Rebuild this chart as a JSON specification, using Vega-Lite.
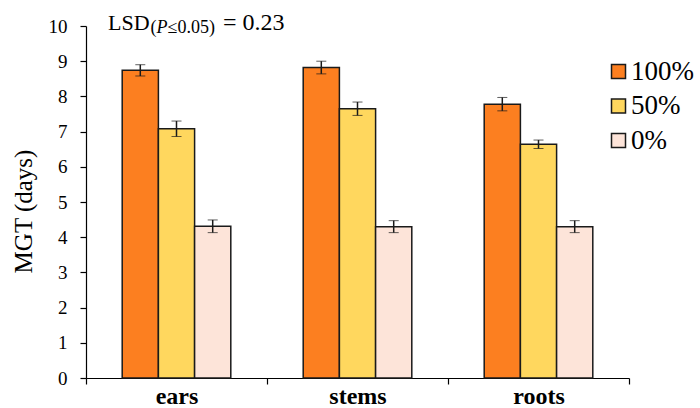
{
  "$schema": "https://vega.github.io/schema/vega-lite/v6.json",
  "width": 543,
  "height": 352,
  "autosize": "none",
  "padding": {"left": 86, "top": 26, "right": 71, "bottom": 30},
  "background": "white",
  "config": {
    "view": {"stroke": null},
    "font": "Liberation Serif",
    "text": {"font": "Liberation Serif"},
    "axis": {"labelFont": "Liberation Serif", "titleFont": "Liberation Serif", "labelColor": "black", "titleColor": "black"},
    "legend": {"labelFont": "Liberation Serif", "titleFont": "Liberation Serif"}
  },
  "data": {
    "values": [
      {"part": "ears", "level": "100%", "mgt": 8.74, "err": 0.16},
      {"part": "ears", "level": "50%", "mgt": 7.08, "err": 0.22},
      {"part": "ears", "level": "0%", "mgt": 4.31, "err": 0.18},
      {"part": "stems", "level": "100%", "mgt": 8.82, "err": 0.18},
      {"part": "stems", "level": "50%", "mgt": 7.65, "err": 0.19},
      {"part": "stems", "level": "0%", "mgt": 4.30, "err": 0.17},
      {"part": "roots", "level": "100%", "mgt": 7.78, "err": 0.19},
      {"part": "roots", "level": "50%", "mgt": 6.64, "err": 0.12},
      {"part": "roots", "level": "0%", "mgt": 4.30, "err": 0.17}
    ]
  },
  "encoding": {
    "x": {
      "field": "part",
      "type": "nominal",
      "sort": ["ears", "stems", "roots"],
      "scale": {"paddingInner": 0, "paddingOuter": 0},
      "axis": {
        "title": null,
        "labelAngle": 0,
        "labelFont": "Liberation Serif",
        "labelFontSize": 24,
        "labelFontWeight": "bold",
        "labelColor": "black",
        "labelBaseline": "alphabetic",
        "labelPadding": 19,
        "tickBand": "extent",
        "tickColor": "black",
        "tickSize": 6,
        "domainColor": "black",
        "domainWidth": 1.2,
        "tickWidth": 1.2
      }
    },
    "xOffset": {
      "field": "level",
      "type": "nominal",
      "sort": ["100%", "50%", "0%"],
      "scale": {"paddingInner": 0, "paddingOuter": 1.086}
    }
  },
  "layer": [
    {
      "encoding": {
        "y": {
          "field": "mgt",
          "type": "quantitative",
          "title": "MGT (days)",
          "scale": {"domain": [0, 10]},
          "axis": {
            "values": [0, 1, 2, 3, 4, 5, 6, 7, 8, 9, 10],
            "labelOverlap": false,
            "grid": false,
            "labelFont": "Liberation Serif",
            "labelFontSize": 19,
            "labelColor": "black",
            "labelPadding": 13,
            "tickColor": "black",
            "tickSize": 6,
            "tickWidth": 1.2,
            "domainColor": "black",
            "domainWidth": 1.2,
            "titleFont": "Liberation Serif",
            "titleFontSize": 25,
            "titleFontWeight": "normal",
            "titleColor": "black",
            "titlePadding": 12,
            "titleY": 185
          }
        }
      },
      "layer": [
        {
          "mark": {"type": "bar", "stroke": "#1a1a1a", "strokeWidth": 1.5},
          "encoding": {
            "fill": {
              "field": "level",
              "type": "nominal",
              "sort": ["100%", "50%", "0%"],
              "scale": {"domain": ["100%", "50%", "0%"], "range": ["#FC7F20", "#FFD75E", "#FDE4D9"]},
              "legend": {
                "title": null,
                "orient": "none",
                "legendX": 519,
                "legendY": 32,
                "symbolType": "square",
                "symbolSize": 196,
                "symbolStrokeColor": "#1a1a1a",
                "symbolStrokeWidth": 1.5,
                "labelFont": "Liberation Serif",
                "labelFontSize": 27,
                "labelColor": "black",
                "rowPadding": 6.5,
                "labelOffset": -1
              }
            }
          }
        },
        {
          "mark": {"type": "errorbar", "ticks": {"size": 10, "color": "#1a1a1a", "strokeWidth": 1.5}, "rule": {"color": "#1a1a1a", "strokeWidth": 1.5}},
          "encoding": {
            "yError": {"field": "err"}
          }
        }
      ]
    },
    {
      "encoding": {
        "y": {
          "datum": 10,
          "type": "quantitative",
          "title": "MGT (days)",
          "axis": {
            "values": [0, 1, 2, 3, 4, 5, 6, 7, 8, 9, 10],
            "labelOverlap": false,
            "grid": false,
            "labelFont": "Liberation Serif",
            "labelFontSize": 19,
            "labelColor": "black",
            "labelPadding": 13,
            "tickColor": "black",
            "tickSize": 6,
            "tickWidth": 1.2,
            "domainColor": "black",
            "domainWidth": 1.2,
            "titleFont": "Liberation Serif",
            "titleFontSize": 25,
            "titleFontWeight": "normal",
            "titleColor": "black",
            "titlePadding": 12,
            "titleY": 185
          }
        }
      },
      "layer": [
        {
          "data": {"values": [{"t": "LSD"}]},
          "mark": {"type": "text", "align": "left", "baseline": "alphabetic", "dx": -68.5, "dy": 4, "fontSize": 22, "font": "Liberation Serif", "color": "black"},
          "encoding": {"x": {"datum": "ears"}, "text": {"field": "t"}, "xOffset": null}
        },
        {
          "data": {"values": [{"t": "("}]},
          "mark": {"type": "text", "align": "left", "baseline": "alphabetic", "dx": -26, "dy": 7, "fontSize": 18, "font": "Liberation Serif", "color": "black"},
          "encoding": {"x": {"datum": "ears"}, "text": {"field": "t"}, "xOffset": null}
        },
        {
          "data": {"values": [{"t": "P"}]},
          "mark": {"type": "text", "align": "left", "baseline": "alphabetic", "dx": -20, "dy": 7, "fontSize": 18, "font": "Liberation Serif", "fontStyle": "italic", "color": "black"},
          "encoding": {"x": {"datum": "ears"}, "text": {"field": "t"}, "xOffset": null}
        },
        {
          "data": {"values": [{"t": "≤0.05)"}]},
          "mark": {"type": "text", "align": "left", "baseline": "alphabetic", "dx": -9, "dy": 7, "fontSize": 18, "font": "Liberation Serif", "color": "black"},
          "encoding": {"x": {"datum": "ears"}, "text": {"field": "t"}, "xOffset": null}
        },
        {
          "data": {"values": [{"t": "= 0.23"}]},
          "mark": {"type": "text", "align": "left", "baseline": "alphabetic", "dx": 46.5, "dy": 4, "fontSize": 24, "font": "Liberation Serif", "color": "black"},
          "encoding": {"x": {"datum": "ears"}, "text": {"field": "t"}, "xOffset": null}
        }
      ]
    }
  ]
}
